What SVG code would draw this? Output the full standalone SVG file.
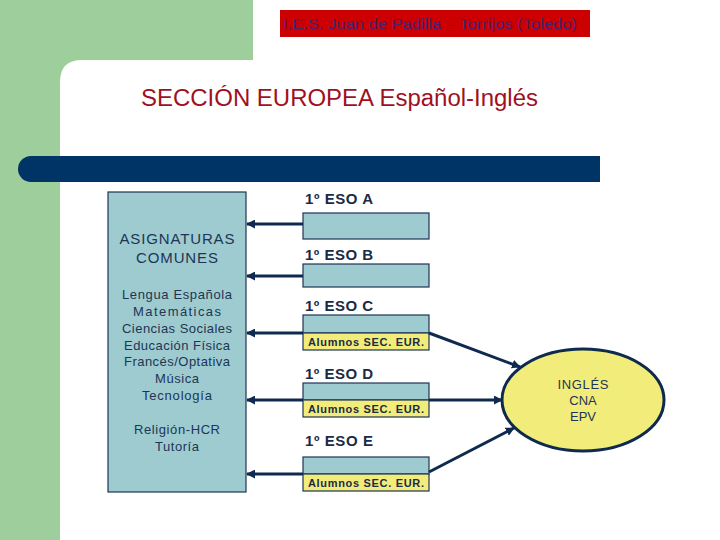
<svg xmlns="http://www.w3.org/2000/svg" width="720" height="540" viewBox="0 0 720 540">
<defs>
<style>
text{font-family:"Liberation Sans",Arial,sans-serif}
.box{fill:#9DCBCF;stroke:#1E3556;stroke-width:1.2}
.yel{fill:#F2EC7A;stroke:#1E3556;stroke-width:1.2}
.lbl{font-size:15px;fill:#1A2B45;font-weight:bold}
.al{font-size:11px;fill:#1A2B45;font-weight:bold}
.lt{font-size:13px;fill:#1E3556;text-anchor:middle}
.con{stroke:#0E2A4E;stroke-width:3;fill:none}
</style>
<marker id="ah" viewBox="0 0 10 10" refX="9" refY="5" markerWidth="3" markerHeight="3" orient="auto-start-reverse">
<path d="M0,0 L10,5 L0,10 z" fill="#0E2A4E"/>
</marker>
</defs>
<rect x="0" y="0" width="720" height="540" fill="#fff"/>
<g id="bg">
<rect x="0" y="0" width="253" height="82" fill="#9ECE9C"/>
<rect x="0" y="0" width="60" height="540" fill="#9ECE9C"/>
<path d="M60,540 V82 Q60,60 82,60 H253 V82 Z" fill="#fff"/>
<rect x="253" y="0" width="467" height="60" fill="#fff"/>
</g>
<g id="header">
<rect x="280" y="10" width="310" height="27" fill="#CC0000"/>
<text x="283" y="29" font-size="14" fill="#4A2070" textLength="294" lengthAdjust="spacingAndGlyphs">I.E.S. Juan de Padilla – Torrijos (Toledo)</text>
</g>
<g id="title">
<text x="141" y="106" font-size="23" fill="#A0101E" textLength="397" lengthAdjust="spacingAndGlyphs">SECCIÓN EUROPEA Español-Inglés</text>
</g>
<g id="bar">
<path d="M31,156 H600 V182 H31 A13,13 0 0 1 18,169 A13,13 0 0 1 31,156 Z" fill="#003366"/>
</g>
<g id="comunes">
<rect class="box" x="108" y="192" width="138" height="300"/>
<text class="lt" x="177" y="244" style="font-size:15px" textLength="115">ASIGNATURAS</text>
<text class="lt" x="177" y="263" style="font-size:15px" textLength="82">COMUNES</text>
<text class="lt" x="177" y="299" textLength="110">Lengua Española</text>
<text class="lt" x="177" y="316" textLength="88">Matemáticas</text>
<text class="lt" x="177" y="333" textLength="110">Ciencias Sociales</text>
<text class="lt" x="177" y="350" textLength="106">Educación Física</text>
<text class="lt" x="177" y="366" textLength="106">Francés/Optativa</text>
<text class="lt" x="177" y="383" textLength="44">Música</text>
<text class="lt" x="177" y="400" textLength="70">Tecnología</text>
<text class="lt" x="177" y="434" textLength="86">Religión-HCR</text>
<text class="lt" x="177" y="451" textLength="44">Tutoría</text>
</g>
<g id="esoA">
<text class="lbl" x="305" y="204" textLength="68">1º ESO A</text>
<rect class="box" x="303" y="213" width="126" height="26"/>
</g>
<g id="esoB">
<text class="lbl" x="305" y="260" textLength="68">1º ESO B</text>
<rect class="box" x="303" y="264" width="126" height="23"/>
</g>
<g id="esoC">
<text class="lbl" x="305" y="311" textLength="68">1º ESO C</text>
<rect class="box" x="303" y="315" width="126" height="18"/>
<rect class="yel" x="303" y="333" width="126" height="17"/>
<text class="al" x="308" y="345.5" textLength="116">Alumnos SEC. EUR.</text>
</g>
<g id="esoD">
<text class="lbl" x="305" y="379" textLength="68">1º ESO D</text>
<rect class="box" x="303" y="383" width="126" height="17"/>
<rect class="yel" x="303" y="400" width="126" height="17"/>
<text class="al" x="308" y="412.5" textLength="116">Alumnos SEC. EUR.</text>
</g>
<g id="esoE">
<text class="lbl" x="305" y="446" textLength="68">1º ESO E</text>
<rect class="box" x="303" y="457" width="126" height="17"/>
<rect class="yel" x="303" y="474" width="126" height="17"/>
<text class="al" x="308" y="486.5" textLength="116">Alumnos SEC. EUR.</text>
</g>
<g id="ingles">
<ellipse cx="583" cy="400" rx="81" ry="51" fill="#F2EC7A" stroke="#0E2A4E" stroke-width="3"/>
<text class="lt" x="583" y="389" textLength="51">INGLÉS</text>
<text class="lt" x="583" y="405">CNA</text>
<text class="lt" x="583" y="421">EPV</text>
</g>
<g id="connectors">
<line class="con" x1="303" y1="224" x2="247" y2="224" marker-end="url(#ah)"/>
<line class="con" x1="303" y1="276" x2="247" y2="276" marker-end="url(#ah)"/>
<line class="con" x1="303" y1="333" x2="247" y2="333" marker-end="url(#ah)"/>
<line class="con" x1="303" y1="400" x2="247" y2="400" marker-end="url(#ah)"/>
<line class="con" x1="303" y1="474" x2="247" y2="474" marker-end="url(#ah)"/>
<line class="con" x1="429" y1="333" x2="520" y2="367" marker-end="url(#ah)"/>
<line class="con" x1="429" y1="400" x2="502" y2="400" marker-end="url(#ah)"/>
<line class="con" x1="429" y1="472" x2="514" y2="428" marker-end="url(#ah)"/>
</g>
</svg>
